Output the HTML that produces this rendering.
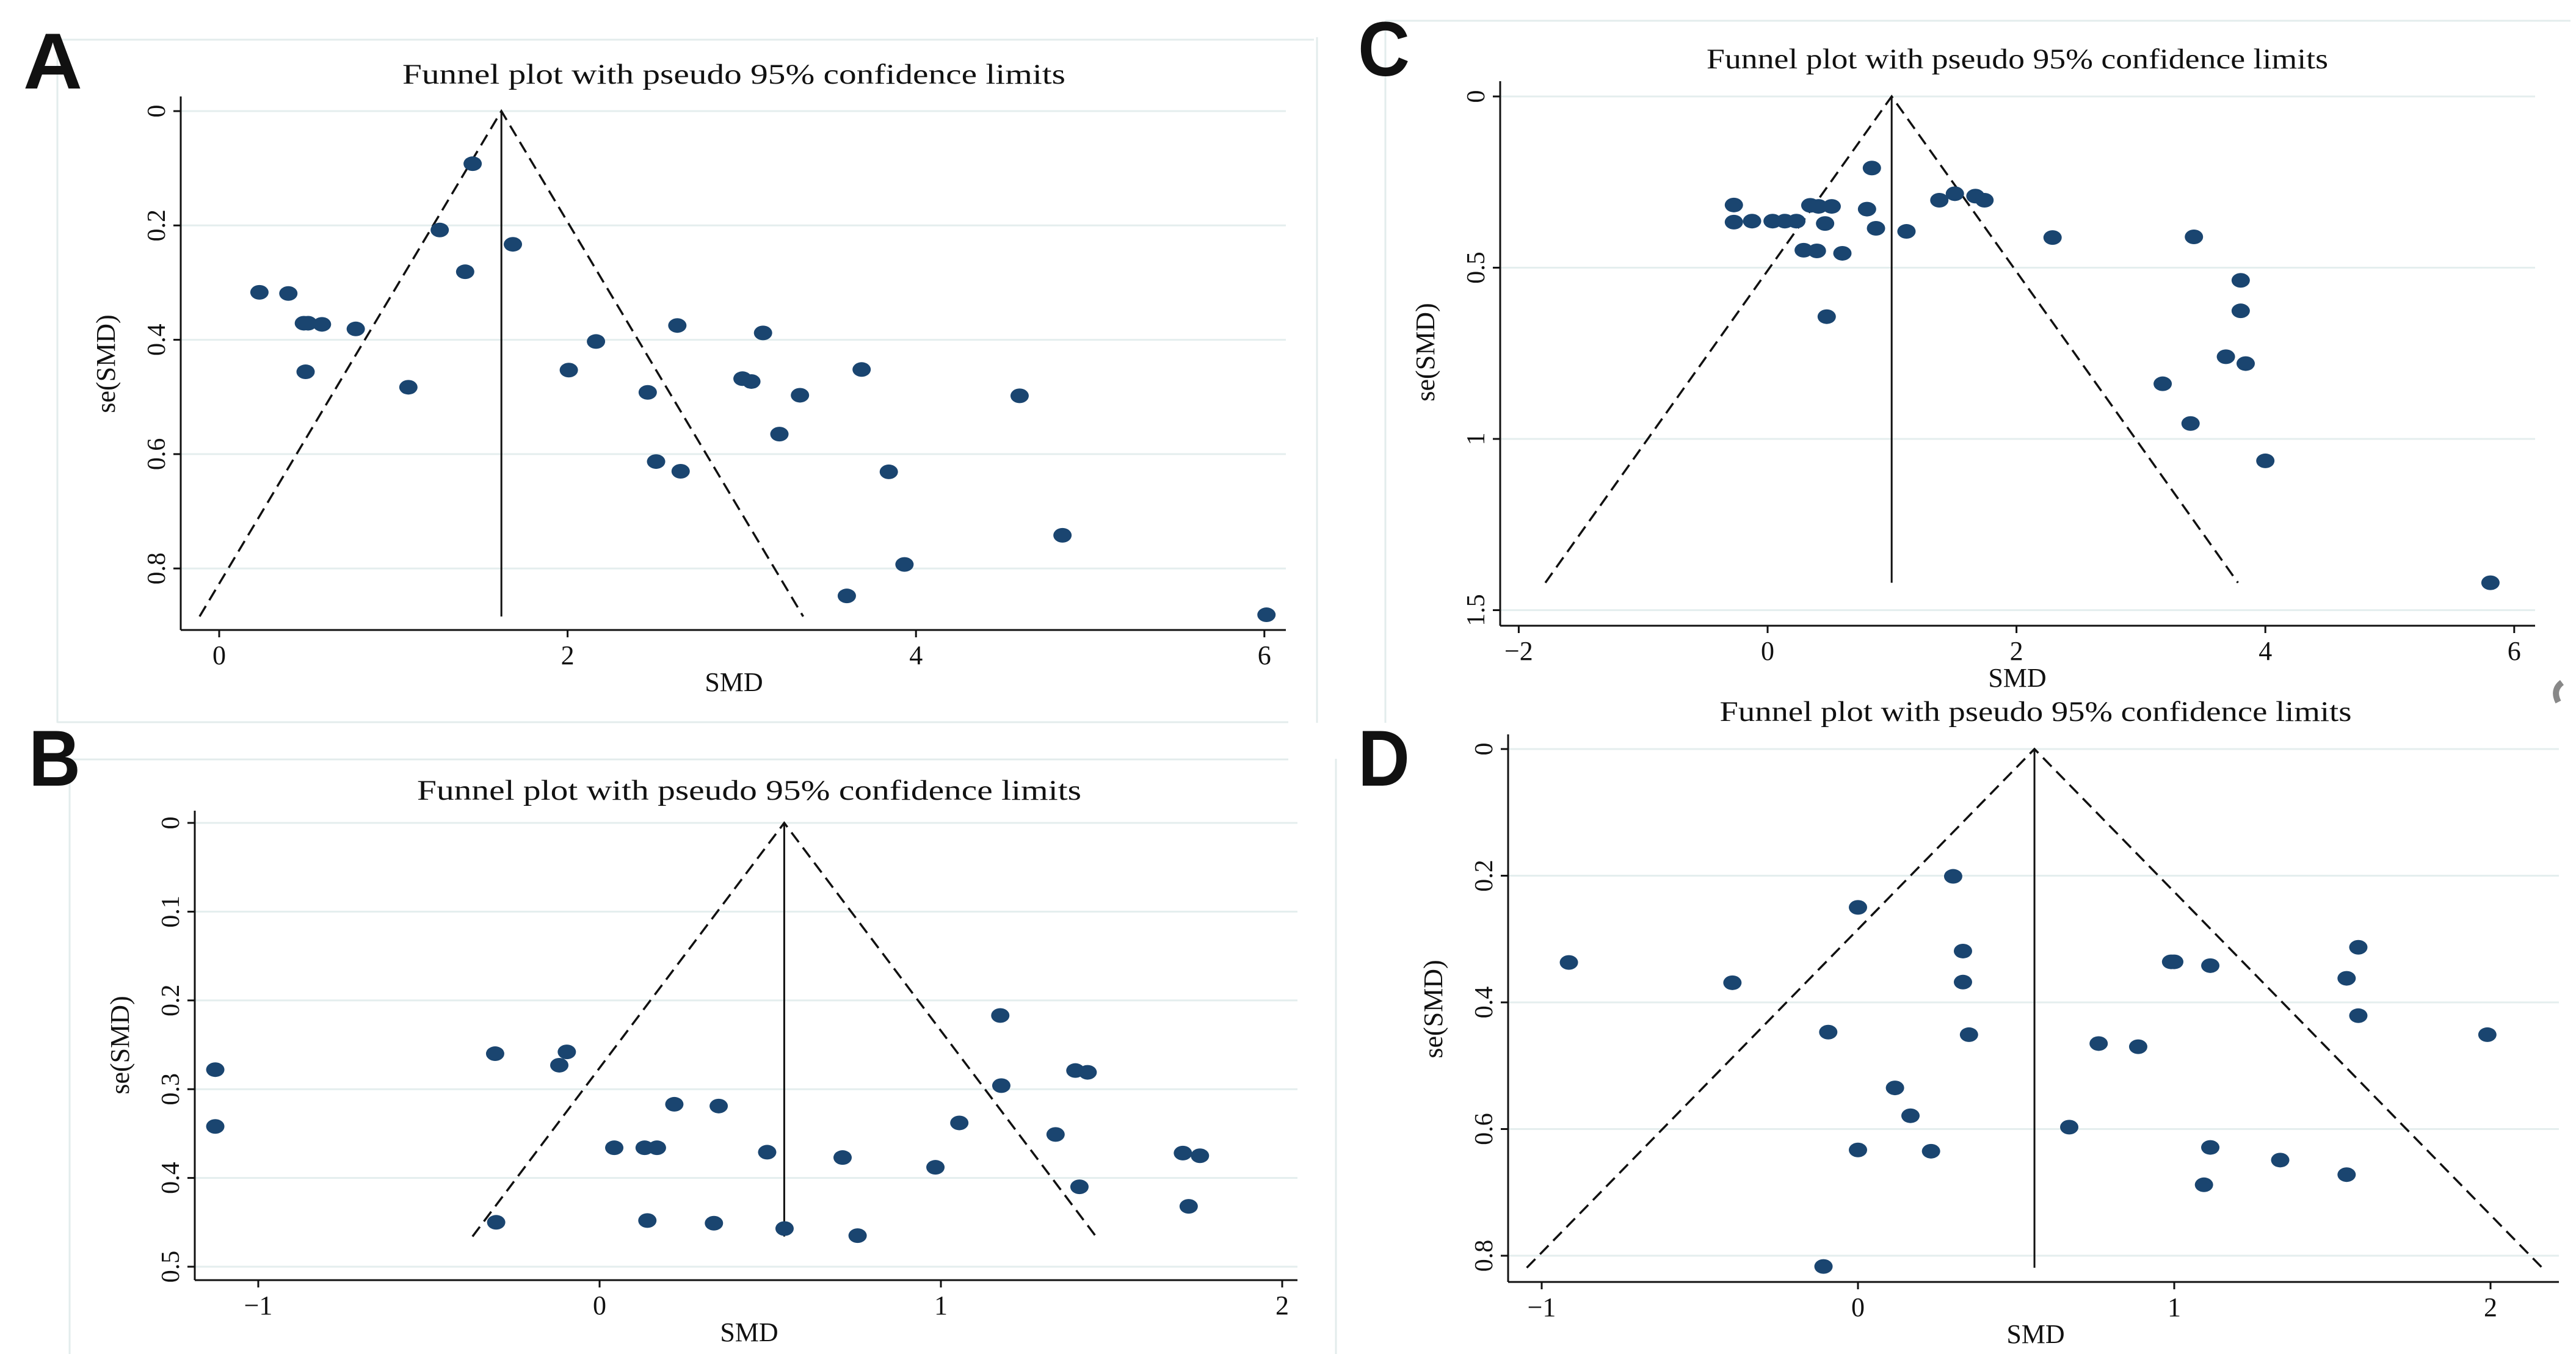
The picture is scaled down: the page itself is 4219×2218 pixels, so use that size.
<!DOCTYPE html>
<html><head><meta charset="utf-8"><style>
html,body{margin:0;padding:0;background:#fff}
svg{display:block}
text{font-family:"Liberation Serif",serif;fill:#111}
</style></head><body>
<svg id="fig" width="4219" height="2218" viewBox="0 0 4219 2218" xmlns="http://www.w3.org/2000/svg">
<g stroke="#e3ecec" stroke-width="3" fill="none">
<path d="M94 65 H2152 M94 65 V1184 M94 1183 H2110 M114 1244 H2110 M114 1244 V2218 M2269 34 H4210 M2269 34 V1184 M2157 61 V1184 M2188 1243 V2218"/>
</g>
<text x="38" y="145" font-weight="bold" font-size="130" textLength="97" lengthAdjust="spacingAndGlyphs" style="font-family:'Liberation Sans',sans-serif">A</text>
<text x="47" y="1287" font-weight="bold" font-size="130" textLength="85" lengthAdjust="spacingAndGlyphs" style="font-family:'Liberation Sans',sans-serif">B</text>
<text x="2224" y="124" font-weight="bold" font-size="126" textLength="85" lengthAdjust="spacingAndGlyphs" style="font-family:'Liberation Sans',sans-serif">C</text>
<text x="2224" y="1287" font-weight="bold" font-size="130" textLength="85" lengthAdjust="spacingAndGlyphs" style="font-family:'Liberation Sans',sans-serif">D</text>
<path d="M4196 1118 q-16 12 -6 32" stroke="#888" stroke-width="10" fill="none"/>
</svg>
<script>
// Panel A data
const smdA=[1.455,1.266,1.686,1.412,0.231,0.397,0.486,0.51,0.59,0.784,0.496,1.086,2.63,3.122,2.163,2.007,3.688,3.004,3.055,2.46,3.334,4.595,3.216,2.508,2.649,3.844,4.841,3.934,3.603,6.012];
const seA=[0.092,0.208,0.233,0.281,0.317,0.319,0.371,0.371,0.373,0.381,0.456,0.483,0.375,0.388,0.403,0.453,0.452,0.468,0.473,0.492,0.497,0.498,0.565,0.613,0.630,0.631,0.742,0.793,0.848,0.881];
const xTicksA=[0,2,4,6];
const yTicksA=[0,0.2,0.4,0.6,0.8];
const pooledA=1.62, seMaxA=0.884;
// Panel B data
const smdB=[-1.126,-1.126,-0.306,-0.096,-0.118,1.174,1.394,1.43,1.177,0.219,0.349,1.054,1.336,0.043,0.132,0.168,0.491,0.712,0.984,1.709,1.759,1.406,1.726,-0.303,0.14,0.335,0.542,0.756];
const seB=[0.278,0.342,0.260,0.258,0.273,0.217,0.279,0.281,0.296,0.317,0.319,0.338,0.351,0.366,0.366,0.366,0.371,0.377,0.388,0.372,0.375,0.410,0.432,0.450,0.448,0.451,0.457,0.465];
const xTicksB=[-1,0,1,2];
const yTicksB=[0,0.1,0.2,0.3,0.4,0.5];
const pooledB=0.541, seMaxB=0.466;
// Panel C data
const smdC=[0.838,-0.271,-0.271,-0.125,0.04,0.139,0.231,0.343,0.409,0.515,0.462,0.799,0.871,1.116,0.29,0.396,0.601,0.475,1.38,1.505,1.67,1.743,2.29,3.426,3.802,3.802,3.683,3.842,3.175,3.399,4.0,5.809];
const seC=[0.209,0.317,0.367,0.364,0.364,0.364,0.364,0.318,0.321,0.321,0.371,0.329,0.385,0.394,0.449,0.451,0.458,0.643,0.303,0.284,0.291,0.303,0.412,0.410,0.537,0.626,0.760,0.780,0.839,0.955,1.064,1.42];
const xTicksC=[-2,0,2,4,6];
const yTicksC=[0,0.5,1,1.5];
const pooledC=0.997, seMaxC=1.42;
// Panel D data
const smdD=[0.301,0.0,-0.914,-0.397,0.332,0.332,-0.094,0.351,0.117,0.166,0.0,0.231,-0.109,0.668,0.99,1.0,1.114,1.582,1.545,1.582,1.99,0.761,0.886,1.114,1.335,1.545,1.094];
const seD=[0.201,0.250,0.337,0.369,0.319,0.368,0.447,0.451,0.535,0.579,0.633,0.635,0.817,0.597,0.336,0.336,0.342,0.313,0.362,0.421,0.451,0.465,0.470,0.629,0.649,0.672,0.688];
const xTicksD=[-1,0,1,2];
const yTicksD=[0,0.2,0.4,0.6,0.8];
const pooledD=0.558, seMaxD=0.819;

const NS="http://www.w3.org/2000/svg";
const svg=document.getElementById('fig');
function mk(tag,attrs,parent){const e=document.createElementNS(NS,tag);for(const k in attrs)e.setAttribute(k,attrs[k]);(parent||svg).appendChild(e);return e;}

function panel(id,smd,se,xTicks,yTicks,pooled,seMax,g){
  const xs=v=>g.x0+g.xu*v, ys=v=>g.y0+g.yu*v;
  const grp=mk('g',{});
  
  
  yTicks.forEach(t=>{
    const l=mk('line',{x1:g.ax,x2:g.right,y1:ys(t),y2:ys(t),stroke:'#e4eeee','stroke-width':3},grp);
    
    
  });
  const ti=mk('text',{x:g.tx,y:g.ty,'font-size':47,'text-anchor':'middle',textLength:g.tl,lengthAdjust:'spacingAndGlyphs'},grp);
  ti.textContent='Funnel plot with pseudo 95% confidence limits';
  
  
  const ya=mk('line',{x1:g.ax,x2:g.ax,y1:g.atop,y2:g.ay,stroke:'#111','stroke-width':3},grp);
  
  
  const xa=mk('line',{x1:g.ax,x2:g.right,y1:g.ay,y2:g.ay,stroke:'#111','stroke-width':3},grp);
  
  
  yTicks.forEach(t=>{
    const y=ys(t);
    const tk=mk('line',{x1:g.ax-12,x2:g.ax,y1:y,y2:y,stroke:'#111','stroke-width':3},grp);
    
    
    const tx=mk('text',{x:0,y:0,'font-size':42,'text-anchor':'middle',transform:`translate(${g.ax-26},${y}) rotate(-90)`},grp);
    tx.textContent=String(t);
    
    
  });
  xTicks.forEach(t=>{
    const x=xs(t);
    const tk=mk('line',{x1:x,x2:x,y1:g.ay,y2:g.ay+12,stroke:'#111','stroke-width':3},grp);
    
    
    const tx=mk('text',{x:x,y:g.ay+56,'font-size':44,'text-anchor':'middle'},grp);
    tx.textContent=t<0?'\u2212'+Math.abs(t):String(t);
    
    
  });
  const xl=mk('text',{x:g.tx,y:g.ay+100,'font-size':44,'text-anchor':'middle'},grp);
  xl.textContent='SMD';
  
  
  const yl=mk('text',{x:0,y:0,'font-size':44,'text-anchor':'middle',transform:`translate(${g.ax-108},${g.lyc}) rotate(-90)`},grp);
  yl.textContent='se(SMD)';
  
  
  const half=1.96*seMax;
  const fl=mk('path',{d:`M${xs(pooled-half)} ${ys(seMax)} L${xs(pooled)} ${ys(0)} L${xs(pooled+half)} ${ys(seMax)}`,fill:'none',stroke:'#111','stroke-width':3.5,'stroke-dasharray':'20 11'},grp);
  
  
  const pl=mk('line',{x1:xs(pooled),x2:xs(pooled),y1:ys(0),y2:ys(seMax),stroke:'#111','stroke-width':3},grp);
  
  
  smd.forEach((v,i)=>{
    const d=mk('ellipse',{cx:xs(v),cy:ys(se[i]),rx:15,ry:12,fill:'#1a4570'},grp);
    
    
  });
}
panel('a',smdA,seA,xTicksA,yTicksA,pooledA,seMaxA,{x0:359,xu:285.3,y0:182,yu:936.5,ax:296,ay:1032,atop:158,right:2106,tx:1202,ty:137,tl:1086,lyc:596});
panel('b',smdB,seB,xTicksB,yTicksB,pooledB,seMaxB,{x0:982,xu:559,y0:1348,yu:1454,ax:319,ay:2097,atop:1328,right:2125,tx:1227,ty:1310,tl:1088,lyc:1712});
panel('c',smdC,seC,xTicksC,yTicksC,pooledC,seMaxC,{x0:2895,xu:203.8,y0:158,yu:561,ax:2457,ay:1025,atop:133,right:4152,tx:3304,ty:112,tl:1018,lyc:577});
panel('d',smdD,seD,xTicksD,yTicksD,pooledD,seMaxD,{x0:3043,xu:518,y0:1227,yu:1037.5,ax:2470,ay:2100,atop:1203,right:4191,tx:3334,ty:1181,tl:1035,lyc:1653});
</script>
</body></html>
